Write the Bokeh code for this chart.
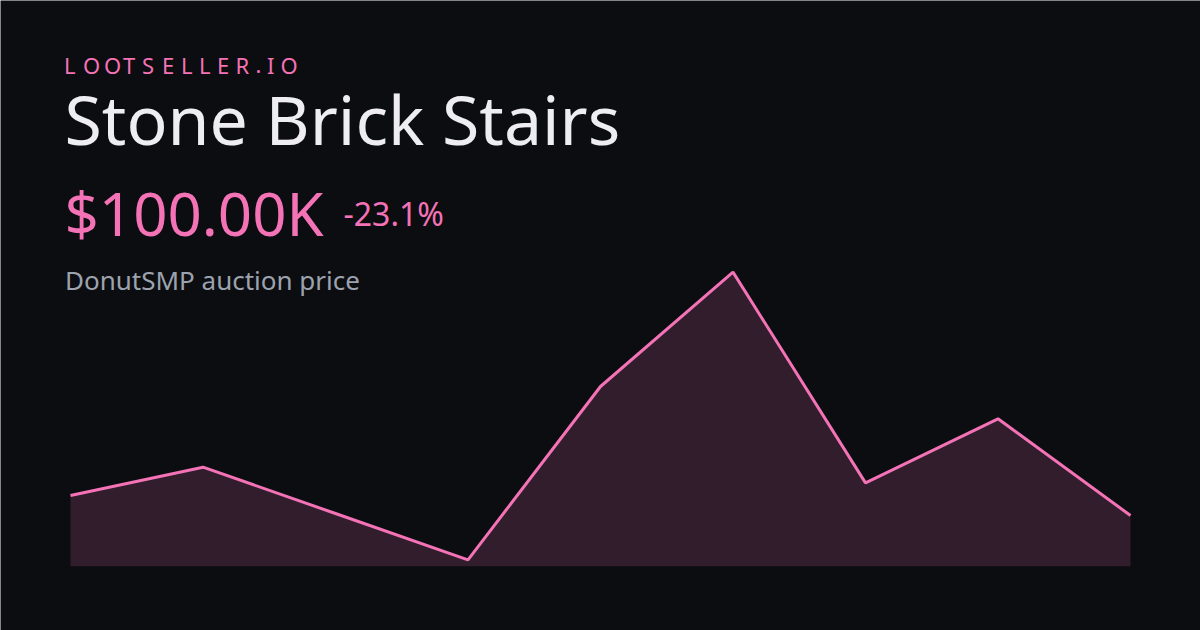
from bokeh.plotting import figure
from bokeh.models import ColumnDataSource, Label, Range1d, Text
from bokeh.core.properties import value
from bokeh.embed import file_html
from bokeh.resources import INLINE

# ---- data ----
days = [0, 1, 2, 3, 4, 5, 6, 7, 8]
prices_k = [130, 172.5, 103, 33.5, 293.5, 465, 149, 245, 100]
brand = "LOOTSELLER.IO"
title = "Stone Brick Stairs"
price_label = "$100.00K"
change_label = "-23.1%"
subtitle = "DonutSMP auction price"

# ---- style ----
BG = "#0c0d10"
PINK = "#f472b6"
WHITE = "#eeeef2"
GRAY = "#9ca3af"
FONT = "Noto Sans"

W, H = 1200, 630
baseline_k = 24
XR = (-0.5283, 8.5283)
YR = (-72.5, 872.5)

p = figure(width=W, height=H, output_backend="svg", toolbar_location=None,
           x_axis_type=None, y_axis_type=None, min_border=0,
           x_range=Range1d(*XR), y_range=Range1d(*YR))
p.background_fill_color = BG
p.border_fill_color = BG
p.outline_line_color = None
p.grid.visible = False

src = ColumnDataSource(dict(x=days, y=prices_k, b=[baseline_k] * len(days)))
p.varea(x="x", y1="b", y2="y", source=src, fill_color=PINK, fill_alpha=0.17)
p.line(x="x", y="y", source=src, line_color=PINK, line_width=3)

BASE_FIX = 0.4  # em offset between requested and drawn alphabetic baseline


def sx(px):
    return px


def sy(py, size):
    return H - (py - BASE_FIX * size)


def label(txt, px, py, size, color):
    p.add_layout(Label(x=sx(px), y=sy(py, size), x_units="screen", y_units="screen",
                       text=txt, text_font=FONT, text_font_size=f"{size}px",
                       text_color=color, text_baseline="alphabetic",
                       text_align="left"))


# letter-spaced brand name, one glyph per character
brand_x = [63.5, 82.5, 103.5, 122.5, 141.5, 161.5, 180.5, 198.5, 216.5, 235, 255, 266.5, 280]
bx = [XR[0] + (sx(v) / W) * (XR[1] - XR[0]) for v in brand_x]
by = [YR[0] + (sy(73.5, 22) / H) * (YR[1] - YR[0])] * len(brand)
bsrc = ColumnDataSource(dict(x=bx, y=by, t=list(brand)))
p.add_glyph(bsrc, Text(x="x", y="y", text="t", text_font=value(FONT),
                       text_font_size="22px", text_color=PINK,
                       text_baseline="alphabetic", text_align="left"))

label(title, 64, 145, 68, WHITE)
label(price_label, 64, 236, 60, PINK)
label(change_label, 343, 226, 32, PINK)
label(subtitle, 64.5, 289.5, 26, GRAY)

open("out.html", "w").write(file_html(p, INLINE))
